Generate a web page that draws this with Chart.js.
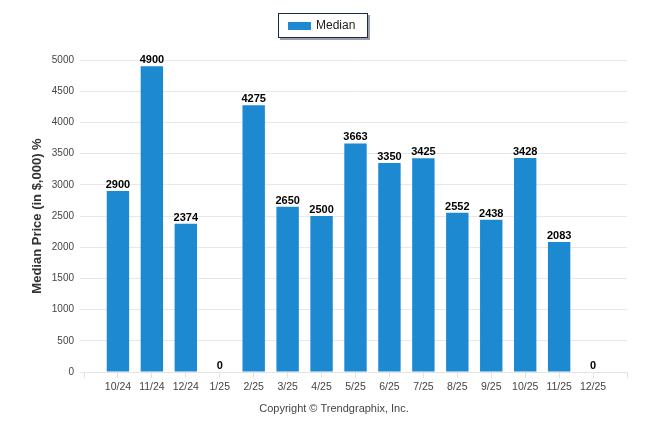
<!DOCTYPE html>
<html>
<head>
<meta charset="utf-8">
<script src="https://cdn.jsdelivr.net/npm/chart.js@4"></script>
<style>
  html, body { margin: 0; padding: 0; background: #fff; }
  #wrap { width: 646px; height: 434px; }
</style>
</head>
<body>
<div id="wrap"><canvas id="medianChart" width="646" height="434"></canvas></div>
<script>
// months shown on the x axis
var months = ['10/24', '11/24', '12/24', '1/25', '2/25', '3/25', '4/25', '5/25',
              '6/25', '7/25', '8/25', '9/25', '10/25', '11/25', '12/25'];
// median price in $,000
var median = [2900, 4900, 2374, 0, 4275, 2650, 2500, 3663, 3350, 3425, 2552, 2438, 3428, 2083, 0];
var yTicks = [0, 500, 1000, 1500, 2000, 2500, 3000, 3500, 4000, 4500, 5000];

var FONT = '"Liberation Sans", Arial, sans-serif';
var BAR = '#1d89d0';

// empty slot on each side, like the original axis
var labels = [''].concat(months, ['']);
var values = [null].concat(median, [null]);

var extras = {
    id: 'extras',
    afterDatasetsDraw: function (chart) {
        var ctx = chart.ctx;
        var meta = chart.getDatasetMeta(0);
        ctx.save();
        ctx.font = 'bold 11px ' + FONT;
        ctx.fillStyle = '#000';
        ctx.textAlign = 'center';
        ctx.textBaseline = 'alphabetic';
        meta.data.forEach(function (bar, i) {
            var v = values[i];
            if (v === null) return;
            ctx.fillText(String(v), bar.x, bar.y - 3);
        });
        ctx.restore();
    },
    afterDraw: function (chart) {
        var ctx = chart.ctx;
        ctx.save();
        // legend box
        ctx.fillStyle = '#9aa0aa';
        ctx.fillRect(280, 15, 90, 25);
        ctx.fillStyle = '#fff';
        ctx.fillRect(278, 13, 90, 25);
        ctx.strokeStyle = '#1b2a4e';
        ctx.lineWidth = 1;
        ctx.strokeRect(278.5, 13.5, 89, 24);
        ctx.fillStyle = BAR;
        ctx.fillRect(288, 22, 23, 8);
        ctx.fillStyle = '#222';
        ctx.font = '12px ' + FONT;
        ctx.textAlign = 'left';
        ctx.textBaseline = 'middle';
        ctx.fillText('Median', 316, 26);
        // copyright
        ctx.fillStyle = '#444';
        ctx.font = '11px ' + FONT;
        ctx.textAlign = 'center';
        ctx.fillText('Copyright \u00a9 Trendgraphix, Inc.', 334, 409);
        ctx.restore();
    }
};

new Chart(document.getElementById('medianChart'), {
    type: 'bar',
    data: {
        labels: labels,
        datasets: [{
            label: 'Median',
            data: values,
            backgroundColor: BAR,
            barPercentage: 0.66,
            categoryPercentage: 1
        }]
    },
    options: {
        responsive: false,
        animation: false,
        layout: { padding: { top: 60, right: 19, bottom: 0, left: 0 } },
        plugins: {
            legend: { display: false },
            tooltip: { enabled: false }
        },
        scales: {
            x: {
                offset: false,
                afterFit: function (s) { s.height = 62; },
                grid: { offset: false, drawOnChartArea: false, drawTicks: true, tickLength: 6, color: '#e3e3e3' },
                border: { color: '#e3e3e3' },
                ticks: {
                    autoSkip: false,
                    maxRotation: 0,
                    padding: 3,
                    color: '#444',
                    font: { family: FONT, size: 10.5 }
                }
            },
            y: {
                min: 0,
                max: 5000,
                afterFit: function (s) { s.width = 84; },
                afterBuildTicks: function (s) {
                    s.ticks = yTicks.map(function (v) { return { value: v }; });
                },
                grid: { color: '#e8e8e8', tickLength: 4 },
                border: { display: false },
                ticks: {
                    padding: 6,
                    color: '#444',
                    font: { family: FONT, size: 10 },
                    callback: function (v) { return String(v); }
                },
                title: {
                    display: true,
                    text: 'Median Price (in $,000) %',
                    color: '#333',
                    padding: { top: 30, bottom: 0 },
                    font: { family: FONT, size: 13, weight: 'bold' }
                }
            }
        }
    },
    plugins: [extras]
});
</script>
</body>
</html>
